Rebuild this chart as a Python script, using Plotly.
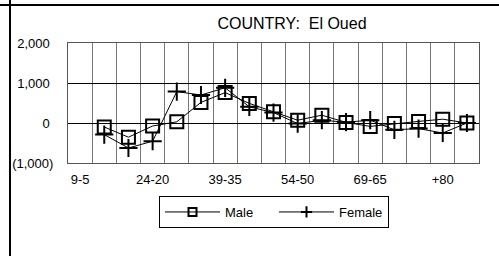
import plotly.graph_objects as go

categories = ["9-5", "14-10", "19-15", "24-20", "29-25", "34-30", "39-35", "44-40",
              "49-45", "54-50", "59-55", "64-60", "69-65", "74-70", "79-75", "+80", "NS"]
male = [None, -100, -355, -75, 30, 515, 760, 490, 280, 70, 195, 15, -85, -15, 40, 95, 0]
female = [None, -290, -625, -455, 785, 700, 880, 405, 260, -15, 70, 20, 70, -170, -140, -250, 0]
y_tickvals = [-1000, 0, 1000, 2000]
y_ticktext = ["(1,000)", "0\u00a0", "1,000\u00a0", "2,000\u00a0"]
x_ticktext = [c if i % 3 == 0 else "" for i, c in enumerate(categories)]

FONT = "Liberation Sans, Arial, sans-serif"
W, H = 499, 256
L, R, T, B = 68, 20, 43, 93
pw, ph = W - L - R, H - T - B

def px_x(p):
    return (p - L) / pw

def px_y(p):
    return (H - B - p) / ph

fig = go.Figure()
series = [("Male", male, "square-open"), ("Female", female, "cross-thin-open")]
for name, vals, sym in series:
    fig.add_trace(go.Scatter(
        x=categories, y=vals, name=name, mode="lines+markers", showlegend=False,
        line=dict(color="black", width=1),
        marker=dict(symbol=sym, size=13, color="black", line=dict(width=2, color="black")),
    ))
for name, vals, sym in series:
    fig.add_trace(go.Scatter(
        x=[None], y=[None], name=name, mode="lines+markers", showlegend=True,
        line=dict(color="black", width=1),
        marker=dict(symbol=sym, size=8, color="black", line=dict(width=2, color="black")),
    ))

fig.update_layout(
    width=W, height=H,
    margin=dict(l=L, r=R, t=T, b=B, autoexpand=False),
    paper_bgcolor="white", plot_bgcolor="white",
    font=dict(family=FONT, size=13, color="black"),
    title=dict(text="COUNTRY:  El Oued", font=dict(size=16, family=FONT, color="black"),
               xref="paper", x=px_x(292), xanchor="center",
               yref="container", y=1 - 23 / H, yanchor="middle"),
    showlegend=True,
    legend=dict(orientation="h", x=px_x(274), xanchor="center", y=px_y(196), yanchor="top",
                bordercolor="black", borderwidth=1, bgcolor="white",
                font=dict(size=13, family=FONT), itemwidth=55, entrywidth=44,
                tracegroupgap=0),
    xaxis=dict(type="category", tickvals=categories, ticktext=x_ticktext, tickangle=0,
               tickson="boundaries", showgrid=True, gridcolor="#777777", gridwidth=1,
               ticks="", showline=True, linecolor="#555555", linewidth=1, mirror=True,
               range=[-0.5, len(categories) - 0.5], ticklabelstandoff=4, automargin=False,
               tickfont=dict(size=13), zeroline=False),
    yaxis=dict(range=[-1000, 2000], tickvals=y_tickvals, ticktext=y_ticktext, automargin=False,
               showgrid=True, gridcolor="black", gridwidth=1, zeroline=False,
               ticks="", showline=True, linecolor="#555555", linewidth=1, mirror=True,
               ticklabelstandoff=11, tickfont=dict(size=13)),
    shapes=[
        dict(type="line", xref="paper", yref="paper", x0=px_x(10), x1=px_x(10),
             y0=px_y(0), y1=px_y(H), line=dict(color="black", width=2)),
        dict(type="line", xref="paper", yref="paper", x0=px_x(0), x1=px_x(W),
             y0=px_y(5), y1=px_y(5), line=dict(color="black", width=2)),
    ],
)

fig.write_html("out.html", config={"displayModeBar": False},
               post_script="document.body.style.margin='0';")
